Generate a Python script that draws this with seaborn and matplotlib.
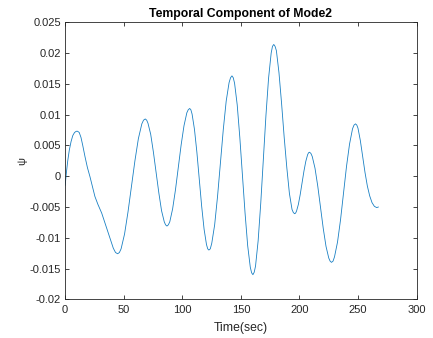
import numpy as np
import pandas as pd
import matplotlib
matplotlib.use("Agg")
import matplotlib.pyplot as plt
import seaborn as sns

# Temporal coefficient of the second mode, sampled over time (s)
time_sec = [
    0.0, 1.0, 2.2, 3.5, 5.0, 6.5, 8.0, 9.5, 10.6, 12.0, 13.5, 15.0, 16.9, 19.0,
    21.2, 23.3, 25.4, 28.0, 31.2, 34.0, 36.9, 39.2, 41.1, 43.0, 44.8,
    46.3, 47.75, 50.7, 53.65, 56.6, 59.55, 62.5, 65.45, 66.9, 68.4,
    69.6, 70.71, 73.03, 75.34, 77.65, 79.96, 82.28, 84.59, 85.7, 86.9,
    88.1, 89.33, 91.75, 94.18, 96.6, 99.03, 101.45, 103.88, 105.1, 106.3,
    107.3, 108.35, 110.4, 112.45, 114.5, 116.55, 118.6, 120.65, 121.7, 122.7,
    123.9, 125.16, 127.63, 130.09, 132.55, 135.01, 137.48, 139.94, 141.2, 142.4,
    143.5, 144.64, 146.88, 149.11, 151.35, 153.59, 155.83, 158.06, 159.2, 160.3,
    161.4, 162.53, 164.75, 166.98, 169.2, 171.43, 173.65, 175.88, 177.0, 178.1,
    179.2, 180.33, 182.55, 184.78, 187.0, 189.23, 191.45, 193.68, 194.8, 195.9,
    196.7, 197.49, 199.08, 200.66, 202.25, 203.84, 205.43, 207.01, 207.8, 208.6,
    209.8, 210.95, 213.3, 215.65, 218.0, 220.35, 222.7, 225.05, 226.2, 227.4,
    228.7, 229.96, 232.53, 235.09, 237.65, 240.21, 242.78, 245.34, 246.6, 247.9,
    249.0, 250.0, 252.0, 254.0, 256.0, 258.0, 260.0, 262.0, 264.0, 266.0, 267.5,
]
psi = [
    -0.0015, 0.0005, 0.0025, 0.0042, 0.0056, 0.0066, 0.0071, 0.0073, 0.0073, 0.0071, 0.0063, 0.0050, 0.0032, 0.0014,
    -0.0001, -0.0017, -0.0033, -0.0046, -0.0060, -0.0076, -0.0093, -0.0106, -0.0117, -0.0124, -0.0126,
    -0.0124, -0.0118, -0.0094, -0.0058, -0.0017, 0.0025, 0.0061, 0.0085, 0.0091, 0.0093,
    0.0091, 0.0086, 0.0068, 0.0039, 0.0006, -0.0027, -0.0056, -0.0074, -0.0079, -0.0081,
    -0.0079, -0.0074, -0.0053, -0.0022, 0.0015, 0.0051, 0.0082, 0.0103, 0.0108, 0.0110,
    0.0108, 0.0101, 0.0076, 0.0039, -0.0005, -0.0049, -0.0086, -0.0111, -0.0118, -0.0120,
    -0.0118, -0.0109, -0.0079, -0.0033, 0.0022, 0.0076, 0.0122, 0.0152, 0.0160, 0.0163,
    0.0160, 0.0151, 0.0116, 0.0063, 0.0002, -0.0060, -0.0113, -0.0148, -0.0157, -0.0160,
    -0.0156, -0.0146, -0.0105, -0.0044, 0.0027, 0.0099, 0.0159, 0.0200, 0.0211, 0.0214,
    0.0211, 0.0204, 0.0168, 0.0118, 0.0063, 0.0014, -0.0028, -0.0054, -0.0059, -0.0061,
    -0.0060, -0.0057, -0.0046, -0.0030, -0.0011, 0.0008, 0.0024, 0.0035, 0.0038, 0.0039,
    0.0037, 0.0032, 0.0013, -0.0016, -0.0051, -0.0085, -0.0114, -0.0133, -0.0138, -0.0140,
    -0.0138, -0.0131, -0.0107, -0.0071, -0.0028, 0.0016, 0.0052, 0.0077, 0.0083, 0.0085,
    0.0083, 0.0078, 0.0058, 0.0032, 0.0006, -0.0016, -0.0032, -0.0043, -0.0049, -0.0051, -0.0050,
]

x_ticks = [0, 50, 100, 150, 200, 250, 300]
y_ticks = [-0.02, -0.015, -0.01, -0.005, 0, 0.005, 0.01, 0.015, 0.02, 0.025]
y_tick_labels = ["-0.02", "-0.015", "-0.01", "-0.005", "0", "0.005", "0.01", "0.015", "0.02", "0.025"]

sns.set_style("white")
plt.rcParams["font.family"] = ["Liberation Sans", "DejaVu Sans"]
plt.rcParams["axes.unicode_minus"] = False

df = pd.DataFrame({"t": time_sec, "psi": psi})

fig = plt.figure(figsize=(4.33, 3.38), dpi=100)
ax = fig.add_axes([0.1505, 0.1145, 0.8115, 0.8195])

sns.lineplot(data=df, x="t", y="psi", ax=ax, color="#0072BD", linewidth=0.6,
             estimator=None, sort=False, solid_joinstyle="round", alpha=0.9)

ax.set_xlim(0, 300)
ax.set_ylim(-0.02, 0.025)
ax.set_xticks(x_ticks)
ax.set_xticklabels([str(v) for v in x_ticks])
ax.set_yticks(y_ticks)
ax.set_yticklabels(y_tick_labels)

edge = "#262626"
for side in ["left", "right", "top", "bottom"]:
    ax.spines[side].set_visible(True)
    ax.spines[side].set_color(edge)
    ax.spines[side].set_linewidth(0.6)

ax.tick_params(axis="both", which="both", direction="in", length=2.6, width=0.6,
               color=edge, labelcolor=edge, labelsize=8,
               top=True, right=True, bottom=True, left=True)
ax.tick_params(axis="y", pad=3)
ax.tick_params(axis="x", pad=4)

ax.set_xlabel("Time(sec)", fontsize=8.8, color=edge, labelpad=5)
ax.set_ylabel("ψ", fontsize=8, color=edge, labelpad=2)
ax.set_title("Temporal Component of Mode2", fontsize=8.8, fontweight="bold",
             color="black", pad=4)

fig.savefig("out.png", dpi=100)
